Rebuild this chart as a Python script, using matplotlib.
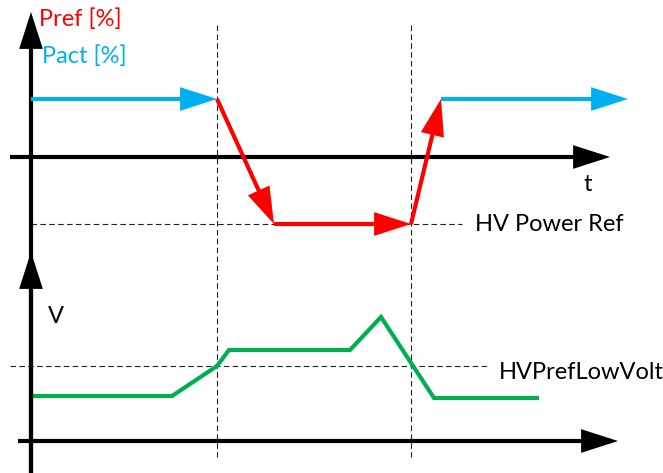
import matplotlib.pyplot as plt
from matplotlib.patches import FancyArrowPatch

# time axis shared by both traces (arbitrary units, origin at the axes crossing)
t_events = [186, 380]

# active power before / after the low-voltage episode
pact_before_t = [0, 186]
pact_after_t = [410, 597]
pact_level = 58

# power reference path (each segment ends in an arrow)
pref_t = [186, 243, 380, 410]
pref_p = [58, -67, -67, 58]
hv_power_ref = -67

# voltage trace
volt_t = [2, 141, 186, 198, 319, 350, 403, 506]
volt_v = [45, 45, 75, 91, 91, 124, 43, 43]
hv_low_volt = 75

RED = '#ff0000'
BLUE = '#00b0f0'
GREEN = '#00b050'
LW = 3.0
plt.rcParams['font.family'] = ['Lato', 'DejaVu Sans']

fig = plt.figure(figsize=(6.63, 4.73), dpi=100)
# two overlaid axes share x, each with its own vertical scale
ax_p = fig.add_axes([0, 0, 1, 1])
ax_v = fig.add_axes([0, 0, 1, 1])
for ax in (ax_p, ax_v):
    ax.set_xlim(-31, 632)
    ax.set_axis_off()
    ax.patch.set_alpha(0)
ax_p.set_ylim(-316, 157)
ax_v.set_ylim(-32, 441)


def arrow(ax, p0, p1, color, lw=LW):
    a = FancyArrowPatch(p0, p1, arrowstyle='-|>,head_length=28,head_width=9',
                        mutation_scale=0.72, color=color, lw=lw,
                        shrinkA=0, shrinkB=0, joinstyle='miter',
                        capstyle='butt', zorder=4)
    ax.add_patch(a)


# event markers and thresholds
for te in t_events:
    ax_p.plot([te, te], [132, -300], color='#222222', lw=0.8, ls=(0, (5, 3)))
ax_p.plot([0, 431], [hv_power_ref] * 2, color='#222222', lw=0.8, ls=(0, (5, 3)))
ax_v.plot([-21, 459], [hv_low_volt] * 2, color='#222222', lw=0.8, ls=(0, (5, 3)))

# axes of the power plot
arrow(ax_p, (0, -316), (0, 145), 'black')
arrow(ax_p, (-21, 0), (579, 0), 'black')
# axes of the voltage plot
arrow(ax_v, (0, -40), (0, 189), 'black')
arrow(ax_v, (-13, 0), (587, 0), 'black')

# active power
arrow(ax_p, (pact_before_t[0], pact_level), (pact_before_t[1], pact_level), BLUE)
arrow(ax_p, (pact_after_t[0], pact_level), (pact_after_t[1], pact_level), BLUE)

# power reference
for i in range(len(pref_t) - 1):
    arrow(ax_p, (pref_t[i], pref_p[i]), (pref_t[i + 1], pref_p[i + 1]), RED)

# voltage
ax_v.plot(volt_t, volt_v, color=GREEN, lw=LW, solid_joinstyle='miter', zorder=3)

fs = 17
ax_p.text(8, 131, 'Pref [%]', color=RED, fontsize=fs)
ax_p.text(11, 94, 'Pact [%]', color=BLUE, fontsize=fs)
ax_p.text(553, -34, 't', color='black', fontsize=fs)
ax_p.text(444, -74, 'HV Power Ref', color='black', fontsize=fs)
ax_v.text(17, 118, 'V', color='black', fontsize=fs)
ax_v.text(468, 62, 'HVPrefLowVolt', color='black', fontsize=fs)

fig.savefig('out.png', dpi=100)
